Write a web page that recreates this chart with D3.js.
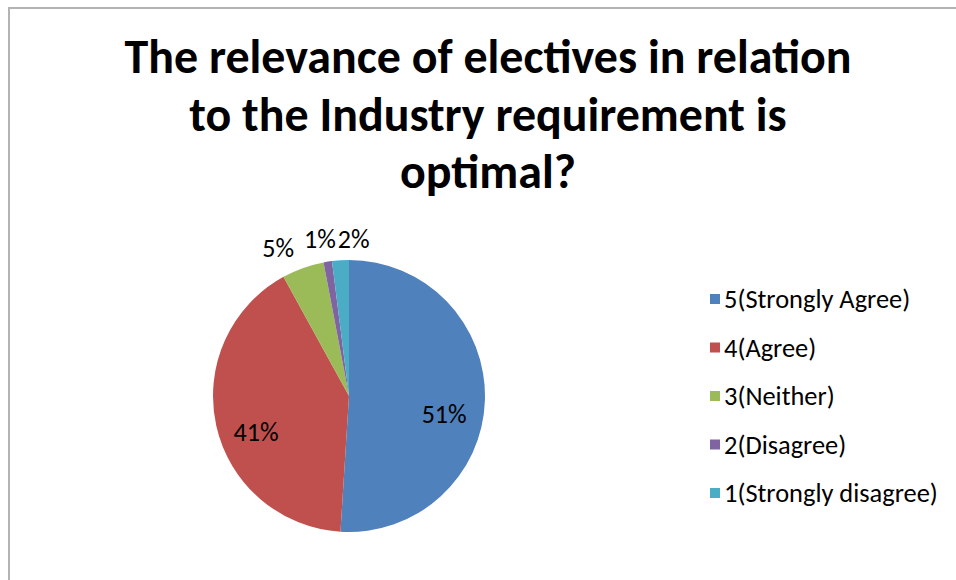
<!DOCTYPE html>
<html>
<head>
<meta charset="utf-8">
<script src="https://cdn.jsdelivr.net/npm/d3@7"></script>
<style>
  html, body { margin: 0; padding: 0; background: #fff; }
  svg { display: block; }
</style>
</head>
<body>
<div id="chart"></div>
<script>
const titleLines = ["The relevance of electives in relation", "to the Industry requirement is", "optimal?"];
const categories = ["5(Strongly Agree)", "4(Agree)", "3(Neither)", "2(Disagree)", "1(Strongly disagree)"];
const values = [51, 41, 5, 1, 2];
const colors = ["#4F81BD", "#C0504D", "#9BBB59", "#8064A2", "#4BACC6"];

const width = 956;
const height = 580;
const font = "Carlito, Lato, 'Open Sans', sans-serif";

const svg = d3.select("#chart").append("svg")
  .attr("width", width)
  .attr("height", height)
  .attr("viewBox", [0, 0, width, height]);

// chart area border (right and bottom edges fall outside the picture)
svg.append("rect")
  .attr("x", 9).attr("y", 8)
  .attr("width", width).attr("height", height)
  .attr("fill", "#fff")
  .attr("stroke", "#b3b3b3")
  .attr("stroke-width", 2);

// title, sized so the first line spans like the reference
const title = svg.append("g")
  .attr("font-family", font)
  .attr("font-weight", "bold")
  .attr("fill", "#000")
  .attr("text-anchor", "middle");

const titleText = title.selectAll("text")
  .data(titleLines)
  .join("text")
  .attr("x", 488)
  .attr("y", (d, i) => 73 + i * 57.5)
  .attr("font-size", 40)
  .text(d => d);

const w0 = titleText.nodes()[0].getComputedTextLength();
titleText.attr("font-size", 40 * 727 / w0);

// pie
const cx = 349, cy = 396, r = 136;

const pie = d3.pie().sort(null).value(d => d)(values);
const arc = d3.arc().innerRadius(0).outerRadius(r);

const g = svg.append("g").attr("transform", `translate(${cx},${cy})`);

g.selectAll("path")
  .data(pie)
  .join("path")
  .attr("d", arc)
  .attr("fill", (d, i) => colors[i]);

// data labels
const inner = d3.arc().innerRadius(r * 0.7).outerRadius(r * 0.7);
const outer = d3.arc().innerRadius(r + 24).outerRadius(r + 24);

const labels = g.append("g")
  .attr("font-family", font)
  .attr("font-size", 18)
  .attr("fill", "#000")
  .attr("text-anchor", "middle");

const big = pie.filter(d => d.value >= 10);
const small = pie.filter(d => d.value < 10);

const inTexts = labels.selectAll("text.in")
  .data(big)
  .join("text")
  .attr("class", "in")
  .attr("x", d => inner.centroid(d)[0])
  .attr("y", d => inner.centroid(d)[1] + 15)
  .attr("dy", "0.35em")
  .text(d => d.value + "%");

// scale label text so "51%" is about as wide as in the reference
const lw0 = inTexts.nodes()[0].getComputedTextLength();
labels.attr("font-size", 18 * 45 / lw0);

// small slices go above the pie, kept in slice order and pushed apart
const outTexts = labels.selectAll("text.out")
  .data(small)
  .join("text")
  .attr("class", "out")
  .attr("dy", "0.35em")
  .text(d => d.value + "%");

const pos = small.map(d => outer.centroid(d));
const widths = outTexts.nodes().map(n => n.getComputedTextLength());
const xs = pos.map(p => p[0]);
const gaps = [10, 2];
for (let i = 1; i < xs.length; i++) {
  const minX = xs[i - 1] + widths[i - 1] / 2 + widths[i] / 2 + gaps[i - 1];
  if (xs[i] < minX) xs[i] = minX;
}
const shift = d3.mean(pos, p => p[0]) - d3.mean(xs) - 2;
const topY = d3.min(pos, p => p[1]);
outTexts
  .attr("x", (d, i) => xs[i] + shift)
  .attr("y", (d, i) => i === 0 ? pos[i][1] + 2 : topY + 3);

// legend
const legend = svg.append("g")
  .attr("font-family", font)
  .attr("font-size", 18)
  .attr("fill", "#000");

const y = d3.scalePoint()
  .domain(categories)
  .range([299, 493]);

const rows = legend.selectAll("g")
  .data(categories)
  .join("g")
  .attr("transform", d => `translate(710,${y(d)})`);

rows.append("rect")
  .attr("x", 0).attr("y", -5)
  .attr("width", 10).attr("height", 10)
  .attr("fill", (d, i) => colors[i]);

const legendText = rows.append("text")
  .attr("x", 14)
  .attr("dy", "0.35em")
  .text(d => d);

const lw = d3.max(legendText.nodes(), n => n.getComputedTextLength());
legend.attr("font-size", 18 * 214 / lw);
</script>
</body>
</html>
